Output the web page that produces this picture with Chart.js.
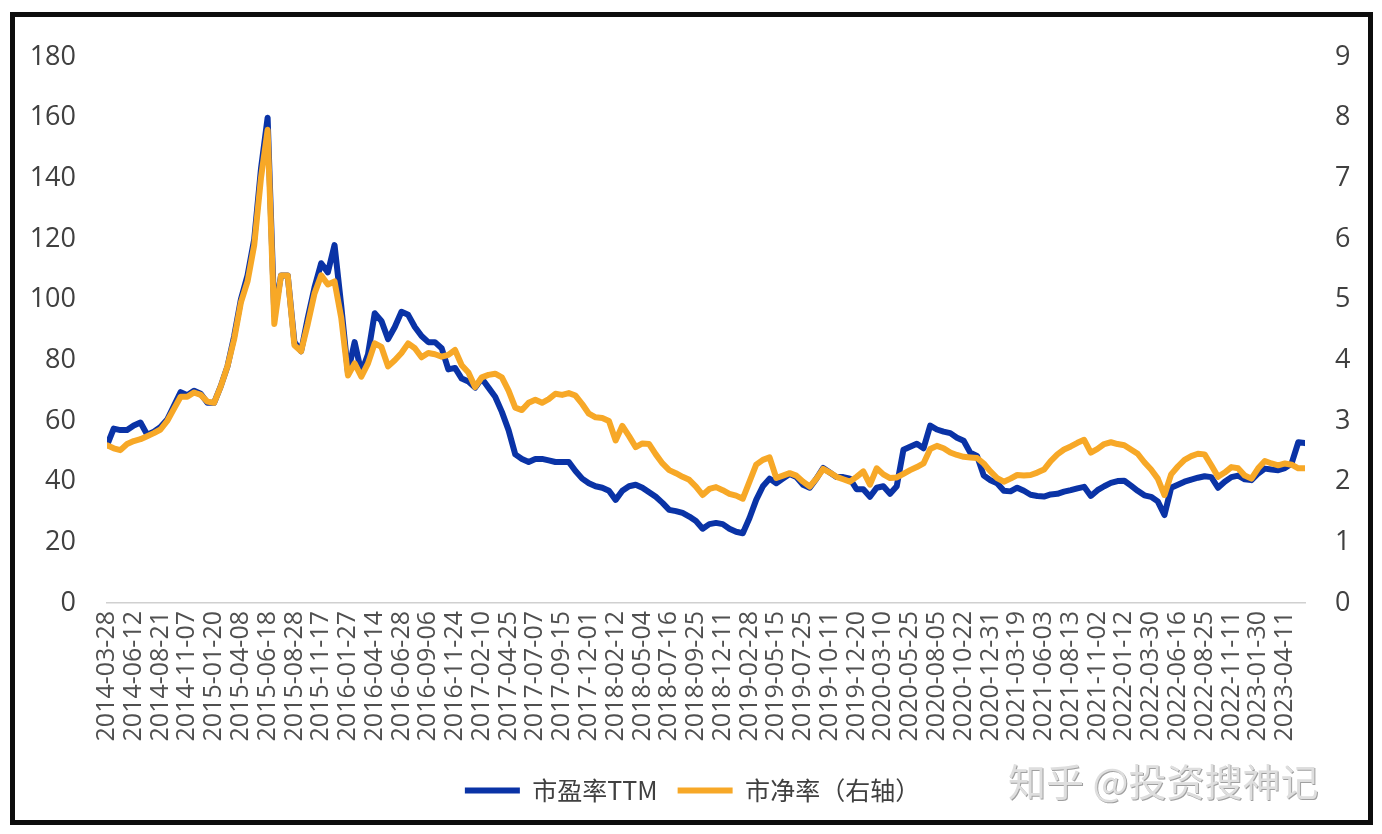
<!DOCTYPE html>
<html><head><meta charset="utf-8">
<script src="https://cdn.jsdelivr.net/npm/chart.js@4.4.1/dist/chart.umd.min.js"></script>
<style>
html,body{margin:0;padding:0;background:#fff;}
#wrap{position:relative;width:1382px;height:834px;overflow:hidden;background:#fff;}
#c{position:absolute;left:0;top:0;}
#frame{position:absolute;left:10px;top:12px;width:1363px;height:813px;box-sizing:border-box;border:5px solid #0d0d0d;pointer-events:none;}
#wm{position:absolute;left:1008px;top:752px;font-family:"Noto Sans CJK SC";font-size:38px;color:#dedede;text-shadow:1px 1px 0 #a0a0a0;white-space:nowrap;}
</style></head><body>
<div id="wrap"><canvas id="c" width="1382" height="834"></canvas><div id="frame"></div><div id="wm">知乎 @投资搜神记</div></div>
<script>
const tickLabels = ['2014-03-28','2014-06-12','2014-08-21','2014-11-07','2015-01-20','2015-04-08','2015-06-18','2015-08-28','2015-11-17','2016-01-27','2016-04-14','2016-06-28','2016-09-06','2016-11-24','2017-02-10','2017-04-25','2017-07-07','2017-09-15','2017-12-01','2018-02-12','2018-05-04','2018-07-16','2018-09-25','2018-12-11','2019-02-28','2019-05-15','2019-07-25','2019-10-11','2019-12-20','2020-03-10','2020-05-25','2020-08-05','2020-10-22','2020-12-31','2021-03-19','2021-06-03','2021-08-13','2021-11-02','2022-01-12','2022-03-30','2022-06-16','2022-08-25','2022-11-11','2023-01-30','2023-04-11'];
const STEP = 4; // data points per labelled interval
const seriesNames = ['市盈率TTM', '市净率（右轴）'];
const peTTM = [
52,57.5,57,57,58.5,59.5,55.5,56.5,58,60.5,
65,69.5,68.5,70,69,66,66,71.5,78,88,
100,108,120,143,160,95,108,108,86,83,
94,104,112,109,118,98,76,86,76,82,
95.5,93,87,91,96,95,91,88,86,86,
84,77,77.5,74,73,71,74,71,68,63,
57,49,47.5,46.5,47.5,47.5,47,46.5,46.5,46.5,
43.5,41,39.5,38.5,38,37,34,37,38.5,39,
38,36.5,35,33,30.7,30.3,29.7,28.5,27,24.5,
26,26.4,26,24.5,23.5,23,28,34,38.5,41,
39.5,41,42.5,41.5,39,38,41,44.5,43,41.5,
41.5,41,37.5,37.5,35,38,38.5,36,38.5,50.5,
51.5,52.5,51,58.5,57.2,56.5,56,54.5,53.5,49.5,
48.5,42,40.5,39.5,37,36.8,38,37,35.7,35.3,
35.1,35.8,36,36.7,37.2,37.8,38.3,35.3,37.2,38.5,
39.6,40.2,40.3,38.7,37,35.5,35,33.5,29,38,
39,40,40.7,41.3,41.8,41.5,38,40,41.5,42,
40.8,40.5,42.7,44.3,44,43.8,44.5,46,53,52.7
];
const pb = [
2.6,2.55,2.52,2.62,2.67,2.7,2.75,2.8,2.86,3.0,
3.2,3.4,3.4,3.47,3.43,3.32,3.3,3.57,3.9,4.35,
4.95,5.3,5.9,7.0,7.8,4.6,5.4,5.4,4.25,4.15,
4.6,5.1,5.4,5.25,5.3,4.7,3.75,3.95,3.73,3.95,
4.28,4.22,3.9,4.0,4.12,4.28,4.2,4.05,4.12,4.1,
4.06,4.09,4.17,3.92,3.8,3.56,3.72,3.76,3.78,3.72,
3.5,3.22,3.18,3.3,3.35,3.3,3.36,3.45,3.43,3.46,
3.42,3.28,3.12,3.06,3.05,3.0,2.68,2.92,2.75,2.57,
2.63,2.62,2.45,2.3,2.19,2.14,2.08,2.03,1.92,1.78,
1.88,1.91,1.86,1.8,1.77,1.72,2.0,2.28,2.36,2.4,
2.06,2.1,2.14,2.1,2.0,1.92,2.05,2.21,2.15,2.08,
2.04,2.0,2.08,2.17,1.95,2.22,2.12,2.06,2.07,2.13,
2.19,2.24,2.3,2.54,2.59,2.55,2.48,2.44,2.41,2.4,
2.39,2.3,2.17,2.06,2.0,2.05,2.11,2.1,2.11,2.15,
2.2,2.34,2.45,2.53,2.58,2.64,2.69,2.48,2.54,2.62,
2.65,2.62,2.6,2.53,2.46,2.32,2.2,2.05,1.78,2.12,
2.25,2.36,2.42,2.46,2.45,2.27,2.08,2.15,2.24,2.22,
2.1,2.05,2.22,2.34,2.3,2.27,2.3,2.28,2.22,2.22
];
const BLUE = '#0A33A6';
const ORANGE = '#F7A827';
const tickFont = '"Open Sans", "Liberation Sans", sans-serif';

new Chart(document.getElementById('c'), {
  type: 'line',
  data: {
    datasets: [
      { label: seriesNames[0], data: peTTM.map((v, i) => ({ x: i / STEP, y: v })), borderColor: BLUE, backgroundColor: BLUE, yAxisID: 'y', order: 1 },
      { label: seriesNames[1], data: pb.map((v, i) => ({ x: i / STEP, y: v })), borderColor: ORANGE, backgroundColor: ORANGE, yAxisID: 'y1', order: 0 }
    ]
  },
  options: {
    responsive: false,
    animation: false,
    events: [],
    layout: { padding: { left: 20, right: 17, top: 57, bottom: 21 } },
    elements: {
      point: { radius: 0, borderWidth: 6 },
      line: { borderWidth: 6, tension: 0, borderJoinStyle: 'round', borderCapStyle: 'round' }
    },
    plugins: {
      tooltip: { enabled: false },
      legend: {
        position: 'bottom',
        labels: {
          usePointStyle: true, pointStyle: 'line', pointStyleWidth: 55, padding: 20,
          color: '#404040', font: { family: '"Noto Sans CJK SC"', size: 25 },
          sort: (a, b) => a.datasetIndex - b.datasetIndex
        }
      }
    },
    scales: {
      x: {
        type: 'linear', min: 0, max: (peTTM.length - 1) / STEP,
        afterBuildTicks: s => { s.ticks = tickLabels.map((_, i) => ({ value: i })); },
        afterFit: s => { s.height = 155; },
        grid: { display: false, drawTicks: false },
        border: { display: true, color: '#d0d0d0', width: 1.5 },
        ticks: { autoSkip: false, minRotation: 90, maxRotation: 90, padding: 8, color: '#505050',
                 font: { family: tickFont, size: 25 }, callback: v => tickLabels[v] }
      },
      y: {
        position: 'left', min: 0, max: 180,
        afterFit: s => { s.width = 87; },
        grid: { display: false, drawTicks: false }, border: { display: false },
        ticks: { stepSize: 20, padding: 31, color: '#404040', font: { family: tickFont, size: 27 } }
      },
      y1: {
        position: 'right', min: 0, max: 9,
        afterFit: s => { s.width = 60; },
        grid: { display: false, drawTicks: false }, border: { display: false },
        ticks: { stepSize: 1, padding: 30, color: '#404040', font: { family: tickFont, size: 27 } }
      }
    }
  }
});
</script>
</body></html>
